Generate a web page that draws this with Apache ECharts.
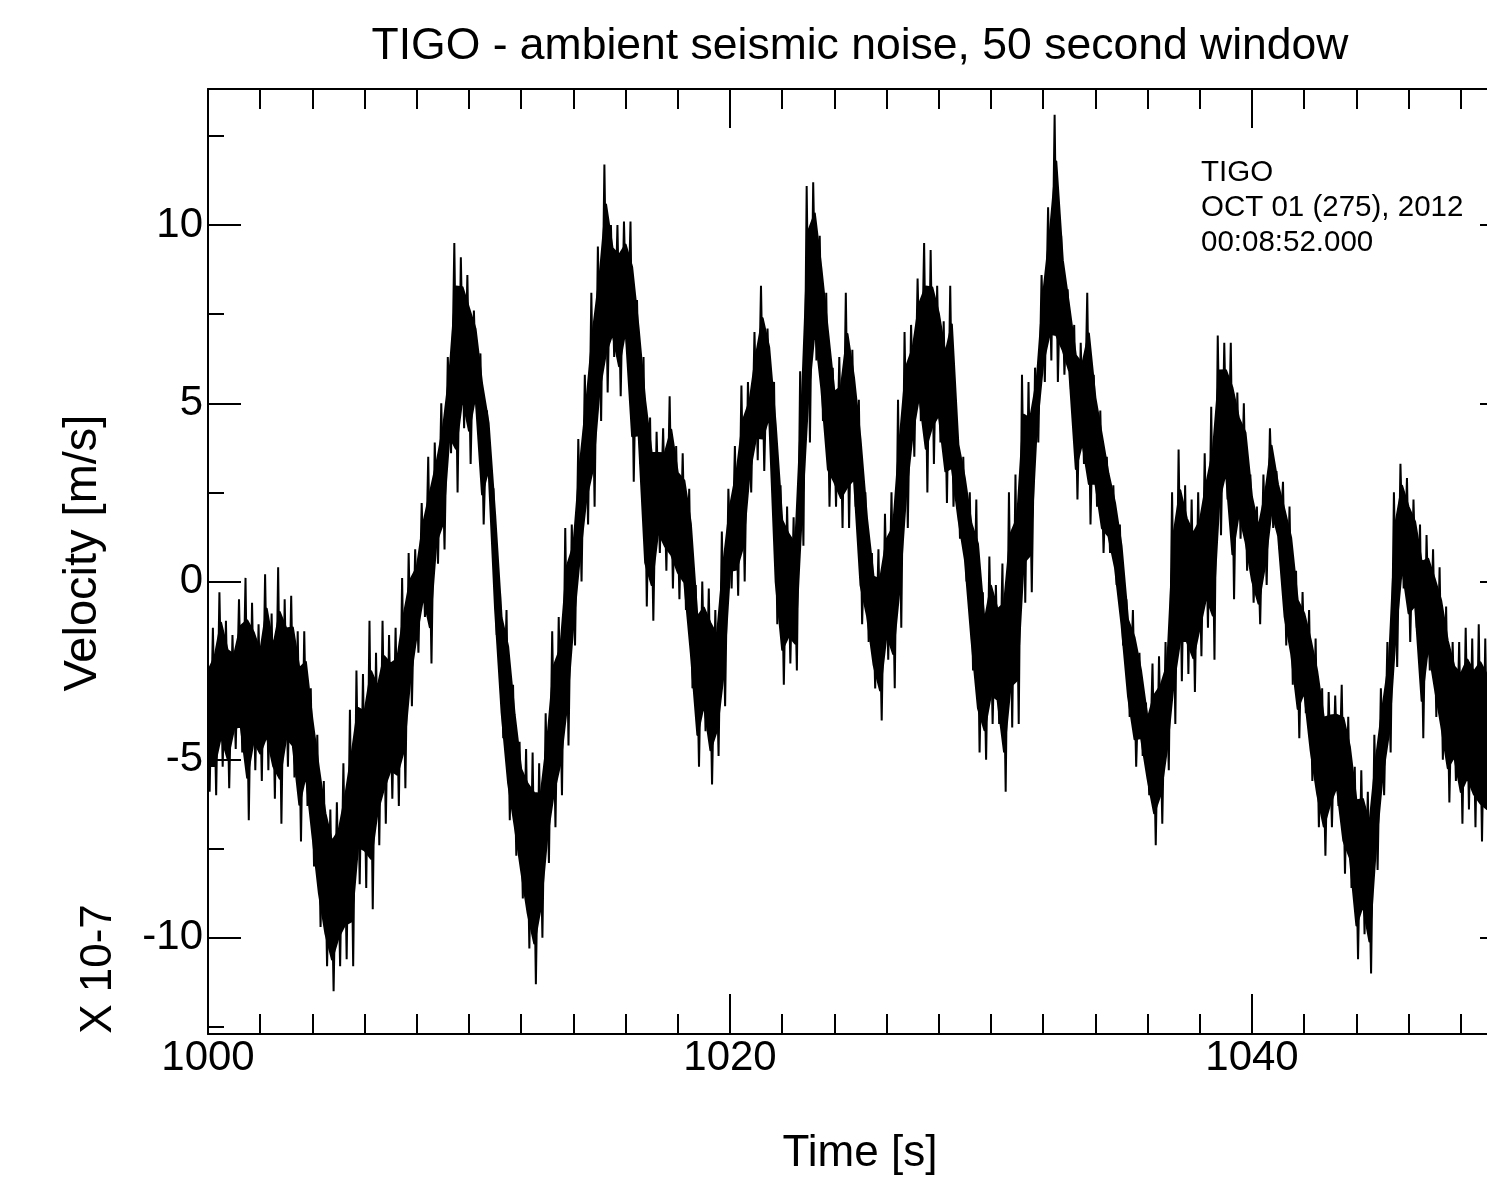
<!DOCTYPE html>
<html>
<head>
<meta charset="utf-8">
<script src="https://cdn.jsdelivr.net/npm/echarts@6/dist/echarts.min.js"></script>
<style>
html,body{margin:0;padding:0;background:#ffffff;}
#chart{width:1487px;height:1184px;}
</style>
</head>
<body>
<div id="chart"></div>
<script>
// ---- data (envelope of the noisy record) ----
// sampling grid of the readings: one reading every 0.25 s starting at 1000 s
const startTime = 1000;
const step = 0.25;
// upper edge of the trace (units of 1e-7 m/s), rows of 2 s
const upper = [
  -1.8,-1.3,-0.3,-1.1,-1.5,-0.5,0.1,-0.6,      // 1000
  -1.2,0.2,-0.9,0.4,-0.5,-0.4,-1.4,-1.4,       // 1002
  -3.0,-4.3,-5.6,-6.4,-6.2,-5.1,-3.6,-2.5,     // 1004
  -2.6,-1.1,-2.0,-1.1,-1.5,-1.3,0.1,0.8,       // 1006
  0.9,2.2,3.5,3.9,5.0,6.3,9.5,9.1,             // 1008
  8.6,7.6,6.4,4.8,2.6,-0.3,-0.8,-2.9,          // 1010
  -4.5,-4.7,-4.8,-5.1,-3.7,-1.4,-1.0,1.5,      // 1012
  1.6,4.0,5.8,8.1,9.4,11.7,10.0,10.0,          // 1014
  10.1,10.1,7.9,6.3,4.6,4.2,4.3,5.2,           // 1016
  3.8,3.6,2.6,-0.1,0.0,-0.2,-0.8,1.4,          // 1018
  2.6,3.8,5.5,5.6,7.0,8.3,7.1,5.6,             // 1020
  2.7,2.1,1.8,5.9,11.1,11.2,9.7,8.1,           // 1022
  6.0,6.3,8.1,6.5,5.1,2.5,0.8,0.9,             // 1024
  1.9,2.5,5.1,7.0,7.2,8.5,9.5,9.3,             // 1026
  8.3,7.3,8.3,4.4,3.5,2.5,2.3,-0.3,            // 1028
  0.7,-0.1,0.5,2.5,3.0,5.8,5.6,6.0,            // 1030
  8.6,10.5,13.1,9.7,8.2,7.2,6.7,8.1,           // 1032
  5.8,4.8,3.5,2.7,1.6,-0.5,-0.8,-2.0,          // 1034
  -3.4,-2.3,-2.1,-1.7,2.5,3.7,2.7,2.3,         // 1036
  2.5,3.6,4.9,6.9,6.7,6.7,5.3,5.0,             // 1038
  3.0,2.1,3.0,4.3,3.1,2.8,2.1,0.3,             // 1040
  -0.3,-0.8,-1.6,-3.0,-3.1,-3.2,-2.9,-3.8,     // 1042
  -5.2,-5.3,-5.9,-4.3,-3.0,-1.7,2.5,3.3,       // 1044
  2.9,2.3,1.6,1.3,0.9,0.4,-0.7,-1.7,           // 1046
  -1.7,-1.3,-1.6,-1.2,-1.6                     // 1048
];
// lower edge of the trace
const lower = [
  -5.9,-6.0,-5.2,-5.8,-4.7,-4.8,-6.7,-5.3,     // 1000
  -5.6,-5.3,-6.1,-6.8,-5.2,-5.5,-7.3,-6.3,     // 1002
  -8.0,-9.7,-10.8,-11.5,-10.8,-10.6,-10.8,-8.5,// 1004
  -8.6,-9.2,-7.4,-6.8,-6.1,-6.3,-5.8,-3.5,     // 1006
  -2.0,-1.0,-2.3,0.5,0.9,3.6,2.5,4.3,          // 1008
  3.3,4.7,1.6,2.8,-1.5,-4.4,-6.7,-7.7,         // 1010
  -8.9,-10.3,-11.3,-10.0,-7.9,-6.9,-6.0,-4.6,  // 1012
  -1.8,0.0,1.6,2.1,4.5,5.3,6.3,5.2,            // 1014
  6.4,2.8,3.3,-0.7,-1.1,0.8,0.3,-0.2,          // 1016
  -0.5,-0.8,-3.0,-5.2,-4.2,-5.7,-4.9,-3.5,     // 1018
  -0.2,-0.4,0.0,2.5,3.4,3.1,4.1,-1.2,          // 1020
  -2.9,-2.3,-2.5,1.0,3.9,6.2,4.5,2.1,          // 1022
  2.1,1.5,1.5,2.1,-1.2,-1.7,-3.0,-3.9,         // 1024
  -2.2,-3.0,-1.3,1.5,3.5,4.5,2.5,3.3,          // 1026
  3.9,2.2,2.1,1.2,0.0,-2.5,-4.8,-5.0,          // 1028
  -4.0,-4.0,-5.9,-4.1,-4.0,-0.6,-0.3,3.9,      // 1030
  5.6,6.2,5.6,5.8,5.4,2.3,3.3,1.6,             // 1032
  2.1,0.8,0.8,-0.1,-1.8,-3.8,-5.2,-4.9,        // 1034
  -6.0,-7.4,-6.8,-5.3,-4.0,-2.8,-2.6,-3.1,     // 1036
  -2.1,-1.3,-2.2,1.3,2.3,-0.5,1.2,0.3,         // 1038
  -0.6,-1.2,-0.1,1.5,0.9,-1.8,-2.9,-4.4,       // 1040
  -3.7,-5.6,-6.9,-7.7,-6.9,-6.3,-8.2,-8.6,     // 1042
  -10.6,-9.9,-11.0,-8.1,-6.0,-4.8,-2.4,-0.2,   // 1044
  -1.7,-1.3,-4.4,-2.5,-3.8,-5.0,-6.2,-5.6,     // 1046
  -6.8,-6.4,-6.9,-7.3,-7.4                     // 1048
];

// ---- axes ----
const xMin = 1000, xMax = 1050;
const yMin = -12.7, yMax = 13.82;
const xMajorTicks = [1000, 1020, 1040];
const xMinorTicks = [1002,1004,1006,1008,1010,1012,1014,1016,1018,
                     1022,1024,1026,1028,1030,1032,1034,1036,1038,
                     1042,1044,1046,1048];
const yMajorTicks = [-10, -5, 0, 5, 10];
const yMinorTicks = [-12.5, -7.5, -2.5, 2.5, 7.5, 12.5];

// ---- texts ----
const titleText = 'TIGO - ambient seismic noise, 50 second window';
const xTitle = 'Time [s]';
const yTitle = 'Velocity [m/s]';
const yScaleText = 'X 10-7';
const infoLines = ['TIGO', 'OCT 01 (275), 2012', '00:08:52.000'];

// upper/lower readings drawn a hair apart so the trace zig-zags like the noise
const half = step / 4;
const trace = [];
for (let i = 0; i < upper.length; i++) {
  const t = startTime + i * step;
  trace.push([t - half, upper[i]]);
  trace.push([t + half, lower[i]]);
}
// share of each reading's spread that is drawn as the solid core of the trace
const coreShare = 0.65;

const FONT = '"Liberation Sans", Arial, Helvetica, sans-serif';
const BLACK = '#000000';

function xAxisDef(pos, ticks, len, showLine, showLabels) {
  return {
    type: 'value', position: pos, min: xMin, max: xMax,
    axisLine: { show: showLine, onZero: false, lineStyle: { color: BLACK, width: 2 } },
    axisTick: { show: true, inside: true, length: len, customValues: ticks,
                lineStyle: { color: BLACK, width: 2 } },
    axisLabel: { show: showLabels, customValues: ticks, margin: 3,
                 formatter: function (v) { return String(v); },
                 fontSize: 42, fontFamily: FONT, color: BLACK },
    splitLine: { show: false }, minorTick: { show: false }
  };
}
function yAxisDef(pos, ticks, len, showLine, showLabels) {
  return {
    type: 'value', position: pos, min: yMin, max: yMax,
    axisLine: { show: showLine, onZero: false, lineStyle: { color: BLACK, width: 2 } },
    axisTick: { show: true, inside: true, length: len, customValues: ticks,
                lineStyle: { color: BLACK, width: 2 } },
    axisLabel: { show: showLabels, customValues: ticks, margin: 5,
                 formatter: function (v) { return String(v); },
                 fontSize: 42, fontFamily: FONT, color: BLACK },
    splitLine: { show: false }, minorTick: { show: false }
  };
}

function txt(x, y, text, size, rot, align) {
  return {
    type: 'text', x: x, y: y, rotation: rot || 0, silent: true,
    style: {
      text: text, fontSize: size, fontFamily: FONT, fill: BLACK,
      align: align || 'center', verticalAlign: 'middle',
      textAlign: align || 'center', textVerticalAlign: 'middle'
    }
  };
}

const chart = echarts.init(document.getElementById('chart'), null, { renderer: 'canvas' });
chart.setOption({
  animation: false,
  backgroundColor: '#ffffff',
  grid: { left: 208, top: 89, right: -26, bottom: 150, containLabel: false, outerBoundsMode: 'none' },
  xAxis: [
    xAxisDef('bottom', xMajorTicks, 40, true, true),
    xAxisDef('bottom', xMinorTicks, 20, false, false),
    xAxisDef('top', xMajorTicks, 39, true, false),
    xAxisDef('top', xMinorTicks, 20, false, false)
  ],
  yAxis: [
    yAxisDef('left', yMajorTicks, 33, true, true),
    yAxisDef('left', yMinorTicks, 16, false, false),
    yAxisDef('right', yMajorTicks, 33, true, false),
    yAxisDef('right', yMinorTicks, 16, false, false)
  ],
  series: [
    {
      // dense core of the trace around the middle of each reading;
      // the zig-zag line supplies the needles out to the read extremes
      type: 'custom', coordinateSystem: 'cartesian2d', xAxisIndex: 0, yAxisIndex: 0,
      data: [[startTime, 0]], silent: true, clip: true, z: 2,
      renderItem: function (params, api) {
        const n = upper.length;
        const top = [], bot = [];
        for (let i = 0; i < n; i++) {
          const mid = (upper[i] + lower[i]) / 2;
          const hw = (upper[i] - lower[i]) / 2 * coreShare;
          top.push(api.coord([startTime + i * step, mid + hw]));
          bot.push(api.coord([startTime + i * step, mid - hw]));
        }
        const pts = top.concat(bot.reverse());
        return { type: 'polygon', shape: { points: pts },
                 style: { fill: BLACK, stroke: BLACK, lineWidth: 2, lineJoin: 'round' } };
      }
    },
    {
      type: 'line', xAxisIndex: 0, yAxisIndex: 0, data: trace, z: 3,
      showSymbol: false, symbol: 'none', sampling: null, smooth: false,
      lineStyle: { color: BLACK, width: 2 }, clip: true
    }
  ],
  graphic: [
    txt(860, 47, titleText, 44.5, 0),
    txt(860, 1154, xTitle, 44, 0),
    txt(83, 553, yTitle, 47, Math.PI / 2),
    txt(99, 969, yScaleText, 44, Math.PI / 2),
    txt(1201, 173, infoLines[0], 29.5, 0, 'left'),
    txt(1201, 208, infoLines[1], 29.5, 0, 'left'),
    txt(1201, 243, infoLines[2], 29.5, 0, 'left')
  ]
});
</script>
</body>
</html>
